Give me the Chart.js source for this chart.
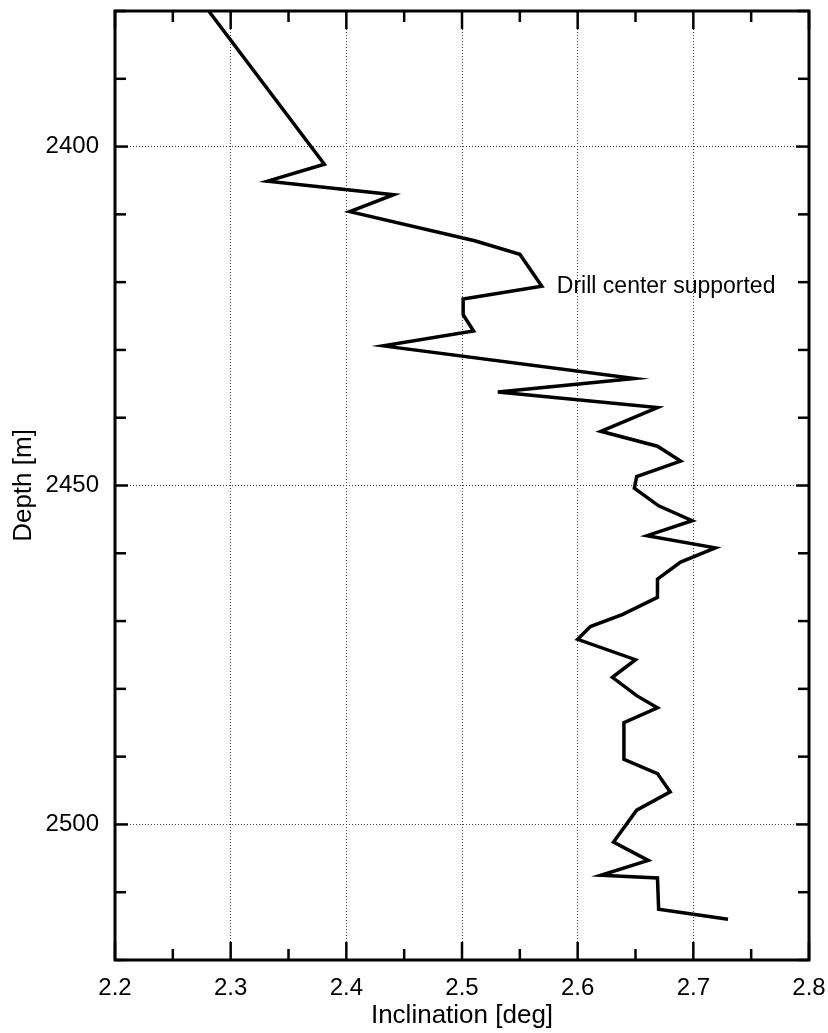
<!DOCTYPE html>
<html>
<head>
<meta charset="utf-8">
<title>Inclination vs depth</title>
<script src="https://cdn.jsdelivr.net/npm/chart.js@4.4.1/dist/chart.umd.min.js"></script>
<style>
  html, body { margin: 0; padding: 0; background: #fff; }
  #wrap { width: 828px; height: 1033px; }
</style>
</head>
<body>
<div id="wrap"><canvas id="incChart" width="828" height="1033"></canvas></div>
<script>
const inclination = [
  2.281, 2.381, 2.332, 2.441, 2.403, 2.511, 2.550, 2.569, 2.501, 2.501,
  2.510, 2.432, 2.649, 2.531, 2.669, 2.620, 2.669, 2.689, 2.651, 2.649,
  2.670, 2.699, 2.660, 2.719, 2.689, 2.669, 2.669, 2.639, 2.611, 2.600,
  2.650, 2.630, 2.651, 2.669, 2.640, 2.640, 2.669, 2.680, 2.651, 2.631,
  2.661, 2.620, 2.669, 2.670, 2.730
];
const depth = [
  2380.0, 2402.6, 2405.1, 2407.1, 2409.6, 2413.9, 2415.9, 2420.6, 2422.5, 2424.8,
  2427.2, 2429.4, 2434.2, 2436.2, 2438.5, 2442.0, 2444.2, 2446.4, 2448.7, 2450.4,
  2453.0, 2455.2, 2457.4, 2459.2, 2461.3, 2463.8, 2466.5, 2469.0, 2470.8, 2472.7,
  2475.7, 2478.3, 2481.0, 2482.8, 2485.0, 2490.4, 2492.5, 2495.2, 2497.9, 2502.6,
  2505.3, 2507.5, 2507.9, 2512.5, 2514.0
];

// Achsen
const xTickLabels = ['2.2', '2.3', '2.4', '2.5', '2.6', '2.7', '2.8'];
const yTickLabels = ['2400', '2450', '2500'];

// Beschriftung im Diagramm
const noteText = 'Drill center supported';
const noteX = 2.582;
const noteDepth = 2420.6;

const FONT = '"Liberation Sans", Arial, Helvetica, sans-serif';
Chart.defaults.font.family = FONT;
Chart.defaults.color = '#000';

const isMajorX = v => xTickLabels.includes(Number(v).toFixed(1)) && Math.abs(v * 10 - Math.round(v * 10)) < 1e-6;
const isMajorY = v => yTickLabels.includes(String(Math.round(v))) && Math.abs(v - Math.round(v)) < 1e-6;

// Skalen ohne Zusatzabstand, damit die Zeichenflaeche fest bleibt
const noPad = s => { s.paddingTop = 0; s.paddingBottom = 0; s.paddingLeft = 0; s.paddingRight = 0; };

// Rahmen, Striche nach innen und Beschriftung
const frameAndTicks = {
  id: 'frameAndTicks',
  afterDraw(chart) {
    const { ctx, chartArea: a, scales: { x, y } } = chart;
    const line = (x1, y1, x2, y2) => { ctx.beginPath(); ctx.moveTo(x1, y1); ctx.lineTo(x2, y2); ctx.stroke(); };
    ctx.save();
    ctx.strokeStyle = '#000';
    ctx.lineWidth = 2.5;
    ctx.lineCap = 'butt';
    x.ticks.forEach(t => {
      const px = x.getPixelForValue(t.value);
      const len = isMajorX(t.value) ? 18 : 11;
      line(px, a.bottom, px, a.bottom - len);
      line(px, a.top, px, a.top + len);
    });
    y.ticks.forEach(t => {
      const py = y.getPixelForValue(t.value);
      const len = isMajorY(t.value) ? 13 : 11;
      line(a.left, py, a.left + len, py);
      line(a.right, py, a.right - len, py);
    });
    ctx.lineWidth = 3;
    ctx.strokeRect(a.left, a.top, a.right - a.left, a.bottom - a.top);

    ctx.fillStyle = '#000';
    ctx.font = '23px ' + FONT;
    ctx.textAlign = 'left';
    ctx.textBaseline = 'middle';
    ctx.fillText(noteText, x.getPixelForValue(noteX), y.getPixelForValue(noteDepth));
    ctx.restore();
  }
};

const ctx = document.getElementById('incChart').getContext('2d');
new Chart(ctx, {
  type: 'scatter',
  data: {
    datasets: [{
      label: 'Inclination',
      data: depth.map((d, i) => ({ x: inclination[i], y: d })),
      showLine: true,
      borderColor: '#000',
      borderWidth: 3.5,
      pointRadius: 0,
      tension: 0,
      borderJoinStyle: 'miter'
    }]
  },
  options: {
    responsive: false,
    animation: false,
    devicePixelRatio: 1,
    layout: { padding: { top: 11, right: 19, left: 0, bottom: 0 } },
    plugins: { legend: { display: false }, tooltip: { enabled: false } },
    scales: {
      x: {
        type: 'linear',
        position: 'bottom',
        min: 2.2, max: 2.8,
        afterFit: s => { s.height = 73; noPad(s); },
        ticks: {
          stepSize: 0.05,
          autoSkip: false,
          maxRotation: 0,
          padding: 14,
          font: { size: 24 },
          callback: v => isMajorX(v) ? Number(v).toFixed(1) : ''
        },
        grid: {
          drawTicks: false,
          lineWidth: 1,
          color: c => (c.tick && isMajorX(c.tick.value) && c.tick.value > 2.21 && c.tick.value < 2.79) ? '#444' : 'transparent'
        },
        border: { display: false, dash: [1, 2] },
        title: { display: true, text: 'Inclination [deg]', font: { size: 26 }, padding: { top: 0, bottom: 2 } }
      },
      y: {
        type: 'linear',
        position: 'left',
        reverse: true,
        min: 2380, max: 2520,
        afterFit: s => { s.width = 115; noPad(s); },
        ticks: {
          stepSize: 10,
          autoSkip: false,
          padding: 16,
          font: { size: 24 },
          callback: v => isMajorY(v) ? String(Math.round(v)) : ''
        },
        grid: {
          drawTicks: false,
          lineWidth: 1,
          color: c => (c.tick && isMajorY(c.tick.value)) ? '#444' : 'transparent'
        },
        border: { display: false, dash: [1, 2] },
        title: { display: true, text: 'Depth [m]', font: { size: 26 }, padding: { top: 8, bottom: 0 } }
      }
    }
  },
  plugins: [frameAndTicks]
});
</script>
</body>
</html>
